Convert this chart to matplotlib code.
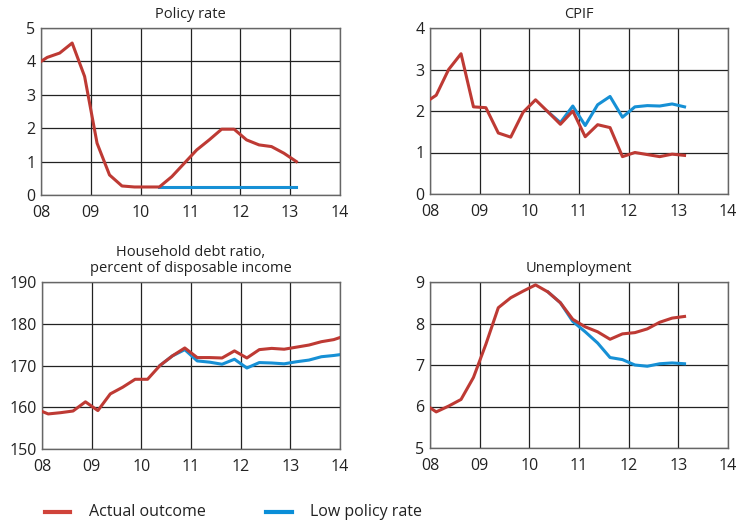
import numpy as np
import matplotlib.pyplot as plt

plt.rcParams['font.family'] = ['Open Sans', 'DejaVu Sans']

# quarterly observations, plotted at mid-quarter (2007Q4 .. )
quarters = 2007.875 + 0.25 * np.arange(27)

# Policy rate
policy_actual = [3.88, 4.12, 4.25, 4.55, 3.55, 1.55, 0.6, 0.27, 0.24, 0.24, 0.24,
                 0.55, 0.95, 1.35, 1.65, 1.97, 1.97, 1.65, 1.5, 1.45, 1.25, 1.0]
policy_low = [0.24] * 12          # from 2010Q2 to 2013Q1

# CPIF
cpif_actual = [2.18, 2.38, 3.0, 3.38, 2.1, 2.08, 1.47, 1.37, 1.97, 2.27, 1.98,
               1.68, 2.0, 1.38, 1.67, 1.6, 0.9, 1.0, 0.95, 0.9, 0.96, 0.93]
cpif_low = [1.98, 1.72, 2.12, 1.65, 2.15, 2.35, 1.85, 2.1, 2.13, 2.12, 2.17, 2.1]

# Household debt ratio
debt_actual = [159.6, 158.4, 158.7, 159.1, 161.3, 159.2, 163.2, 164.8, 166.7, 166.7,
               170.0, 172.3, 174.2, 171.9, 171.9, 171.8, 173.5, 171.8, 173.8, 174.1,
               173.9, 174.4, 174.9, 175.7, 176.2, 177.2]
debt_low = [170.0, 172.3, 173.8, 171.1, 170.8, 170.3, 171.5, 169.4, 170.7, 170.6,
            170.4, 170.9, 171.3, 172.1, 172.4, 172.8]

# Unemployment
unemp_actual = [6.07, 5.87, 6.01, 6.17, 6.7, 7.5, 8.38, 8.62, 8.78, 8.93, 8.76,
                8.5, 8.1, 7.92, 7.8, 7.62, 7.75, 7.78, 7.87, 8.03, 8.13, 8.17]
unemp_low = [8.76, 8.5, 8.05, 7.8, 7.53, 7.18, 7.13, 7.0, 6.97, 7.03, 7.05, 7.03]

xticks = [2008, 2009, 2010, 2011, 2012, 2013, 2014]
xticklabels = ['08', '09', '10', '11', '12', '13', '14']

red = '#be3a34'
blue = '#1690d5'

panels = [
    ('Policy rate', policy_actual, policy_low, 10, (0, 5), [0, 1, 2, 3, 4, 5]),
    ('CPIF', cpif_actual, cpif_low, 10, (0, 4), [0, 1, 2, 3, 4]),
    ('Household debt ratio,\npercent of disposable income', debt_actual, debt_low, 10,
     (150, 190), [150, 160, 170, 180, 190]),
    ('Unemployment', unemp_actual, unemp_low, 10, (5, 9), [5, 6, 7, 8, 9]),
]

fig = plt.figure(figsize=(7.36, 5.24), dpi=100)
W, H = 736, 524
boxes = [(41, 28, 340, 195), (430, 28, 728, 194), (42, 282, 340, 449), (430, 282, 728, 448)]

for (title, act, low, start, ylim, yt), (x0, y0, x1, y1) in zip(panels, boxes):
    ax = fig.add_axes([x0 / W, 1 - y1 / H, (x1 - x0) / W, (y1 - y0) / H])
    ax.plot(quarters[:len(act)], act, color=red, lw=2.2, zorder=3)
    ax.plot(quarters[start:start + len(low)], low, color=blue, lw=2.2, zorder=2)
    ax.set_xlim(2008, 2014)
    ax.set_ylim(*ylim)
    ax.set_xticks(xticks)
    ax.set_xticklabels(xticklabels)
    ax.set_yticks(yt)
    ax.grid(True, color='#222222', lw=0.9)
    ax.tick_params(length=0, labelsize=11.5, colors='#222222')
    ax.tick_params(axis='x', pad=7)
    ax.tick_params(axis='y', pad=4)
    for s in ax.spines.values():
        s.set_color('#666666')
        s.set_linewidth(1.0)
    ax.set_title(title, fontsize=10.5, pad=7, color='#222222', linespacing=1.15)

# legend along the bottom
lx = fig.add_axes([0, 0, 1, 0.06])
lx.axis('off')
lx.set_xlim(0, W)
lx.set_ylim(0, 1)
lx.plot([45, 70], [0.39, 0.39], color='#d0433a', lw=3)
lx.text(89, 0.39, 'Actual outcome', va='center', fontsize=11.5, color='#222222')
lx.plot([266, 292], [0.39, 0.39], color='#0a8ed8', lw=3)
lx.text(310, 0.39, 'Low policy rate', va='center', fontsize=11.5, color='#222222')

fig.savefig('out.png', dpi=100)
